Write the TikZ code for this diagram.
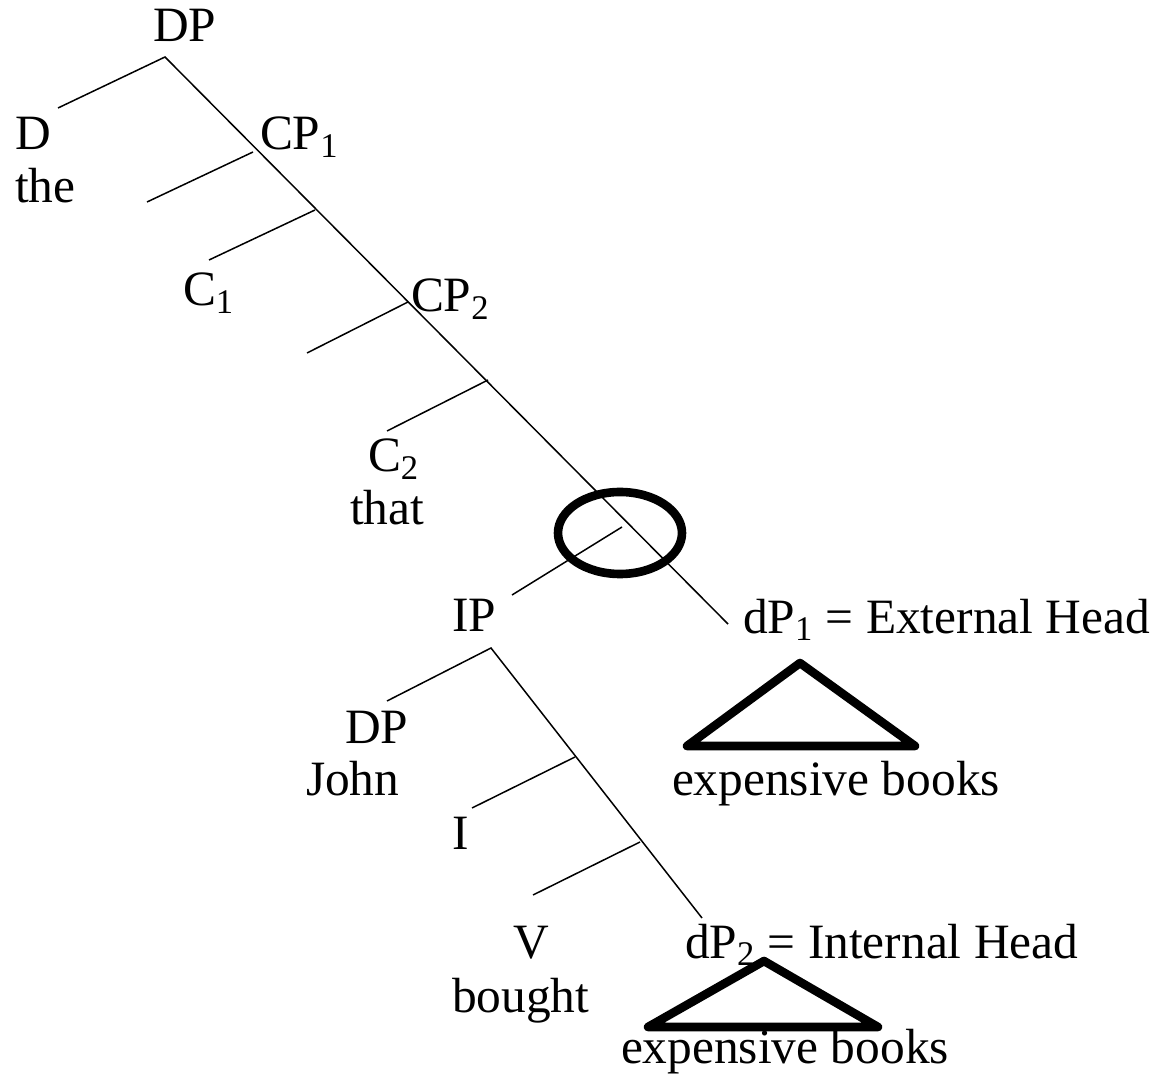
\documentclass[tikz,border=0pt]{standalone}
\usepackage{fontspec}
\setmainfont{Liberation Serif}
\begin{document}
\begin{tikzpicture}[x=0.5pt,y=-0.5pt,
  lbl/.style={anchor=base west,inner sep=0pt,outer sep=0pt,font=\fontsize{24.7}{29}\selectfont},
  branch/.style={line width=0.75pt,line cap=butt},
  heavy/.style={line width=4.3pt,line join=round,line cap=round}]
\useasboundingbox (0,0) rectangle (1151,1074);

% labels
\node[lbl] (dp)    at (153,42)   {DP};
\node[lbl] (d)     at (15,150)   {D};
\node[lbl] (the)   at (15,203)   {the};
\node[lbl] (cp1)   at (260,150)  {CP\textsubscript{1}};
\node[lbl] (c1)    at (183,306)  {C\textsubscript{1}};
\node[lbl] (cp2)   at (411,312)  {CP\textsubscript{2}};
\node[lbl] (c2)    at (368,472)  {C\textsubscript{2}};
\node[lbl] (that)  at (350,525)  {that};
\node[lbl] (ip)    at (452,632)  {IP};
\node[lbl] (dp1)   at (743,633)  {dP\textsubscript{1} = External Head};
\node[lbl] (eb1)   at (672,795)  {expensive books};
\node[lbl] (dpj)   at (345,743)  {DP};
\node[lbl] (john)  at (306,795)  {John};
\node[lbl] (i)     at (452,849)  {I};
\node[lbl] (v)     at (513,958)  {V};
\node[lbl] (bought) at (452,1012) {bought};
\node[lbl] (dp2)   at (685,958)  {dP\textsubscript{2} = Internal Head};
\node[lbl] (eb2)   at (621,1063) {expensive books};

% junction points of the upper spine
\coordinate (top)   at (165,57);
\coordinate (dleaf) at (58,108);
\coordinate (end1)  at (728,624);
\coordinate (j1) at (253,152);  \coordinate (l1) at (147,202);
\coordinate (j2) at (315,210);  \coordinate (l2) at (209,260);
\coordinate (j3) at (408,302);  \coordinate (l3) at (307,353);
\coordinate (j4) at (488,380);  \coordinate (l4) at (387,431);
\coordinate (j5) at (622,527);  \coordinate (l5) at (512,595);

\draw[branch] (dleaf) -- (top) -- (end1);
\draw[branch] (j1) -- (l1);
\draw[branch] (j2) -- (l2);
\draw[branch] (j3) -- (l3);
\draw[branch] (j4) -- (l4);
\draw[branch] (j5) -- (l5);

% lower spine under IP
\coordinate (ipt)  at (491,648);
\coordinate (jl)   at (387,701);
\coordinate (end2) at (702,918);
\coordinate (k1) at (575,757);  \coordinate (m1) at (472,808);
\coordinate (k2) at (640,842);  \coordinate (m2) at (533,895);

\draw[branch] (jl) -- (ipt) -- (end2);
\draw[branch] (k1) -- (m1);
\draw[branch] (k2) -- (m2);

% circled node
\draw[heavy] (620,533) ellipse [x radius=62, y radius=41];

% triangles
\coordinate (t1a) at (800,663); \coordinate (t1l) at (687,746); \coordinate (t1r) at (915,746);
\draw[heavy] (t1a) -- (t1l) -- (t1r) -- cycle;
\coordinate (t2a) at (764,961); \coordinate (t2l) at (648,1027); \coordinate (t2r) at (878,1027);
\draw[heavy] (t2a) -- (t2l) -- (t2r) -- cycle;
\end{tikzpicture}
\end{document}
